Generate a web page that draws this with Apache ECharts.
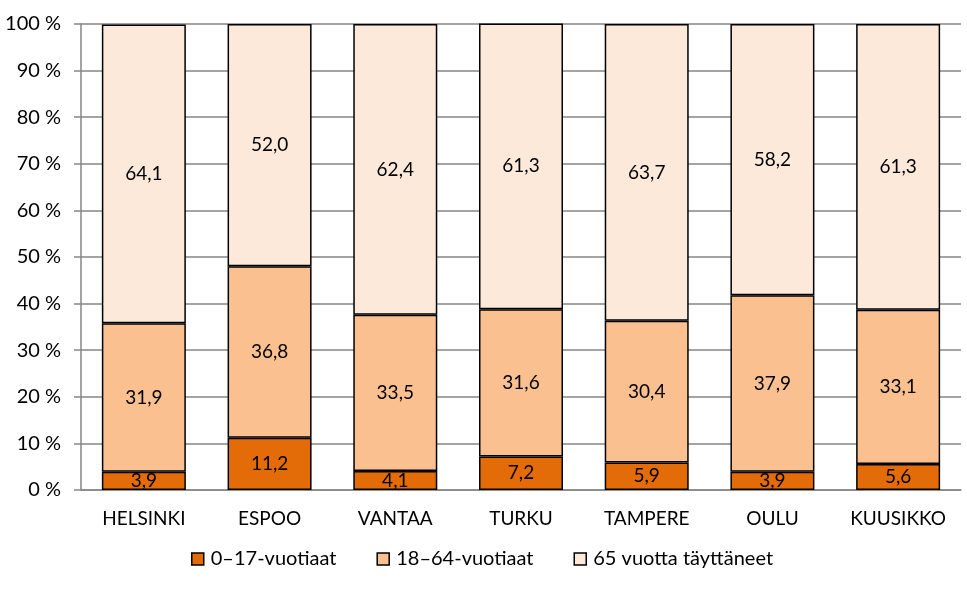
<!DOCTYPE html>
<html><head><meta charset="utf-8">
<script src="https://cdn.jsdelivr.net/npm/echarts@6/dist/echarts.min.js"></script>
<style>html,body{margin:0;padding:0;background:#fff}#c{width:967px;height:590px}</style>
</head><body><div id="c"></div>
<script>
const categories = ['HELSINKI','ESPOO','VANTAA','TURKU','TAMPERE','OULU','KUUSIKKO'];
const seriesNames = ['0–17-vuotiaat','18–64-vuotiaat','65 vuotta täyttäneet'];
const age0_17 = [3.9, 11.2, 4.1, 7.2, 5.9, 3.9, 5.6];
const age18_64 = [31.9, 36.8, 33.5, 31.6, 30.4, 37.9, 33.1];
const age65 = [64.1, 52.0, 62.4, 61.3, 63.7, 58.2, 61.3];
const colors = ['#E36C09', '#FAC090', '#FDE9D9'];
const font = 'Lato, "Open Sans", sans-serif';
const chart = echarts.init(document.getElementById('c'));
const mk = (name, data, color) => ({
  name, type: 'bar', stack: 'a', data, barWidth: 84,
  itemStyle: {color, borderColor: '#000', borderWidth: 1.5},
  label: {show: true, position: 'inside', color: '#000', fontFamily: font, fontSize: 19,
    formatter: p => p.value.toFixed(1).replace('.', ',')}
});
chart.setOption({
  animation: false,
  grid: {left: 81, right: 6, top: 24, bottom: 100},
  legend: {top: 544, left: 186, itemWidth: 12, itemHeight: 12, itemGap: 40,
    textStyle: {fontFamily: font, fontSize: 20, color: '#000', padding: [0, 0, 0, 2]},
    data: seriesNames.map((n, i) => ({name: n, icon: 'rect', itemStyle: {color: colors[i], borderColor: '#000', borderWidth: 1.5}}))},
  xAxis: {type: 'category', data: categories,
    axisLine: {show: true, lineStyle: {color: '#868686', width: 1.5}},
    axisTick: {show: false},
    axisLabel: {fontFamily: font, fontSize: 19, color: '#000', margin: 19}},
  yAxis: {type: 'value', min: 0, max: 100, interval: 10,
    axisLine: {show: true, lineStyle: {color: '#868686', width: 1.5}},
    axisTick: {show: true, length: 7, lineStyle: {color: '#868686', width: 1.5}},
    splitLine: {lineStyle: {color: '#868686', width: 1.5}},
    axisLabel: {fontFamily: font, fontSize: 20, color: '#000', margin: 20, formatter: v => v + ' %'}},
  series: [mk(seriesNames[0], age0_17, colors[0]), mk(seriesNames[1], age18_64, colors[1]), mk(seriesNames[2], age65, colors[2])]
});
</script></body></html>
